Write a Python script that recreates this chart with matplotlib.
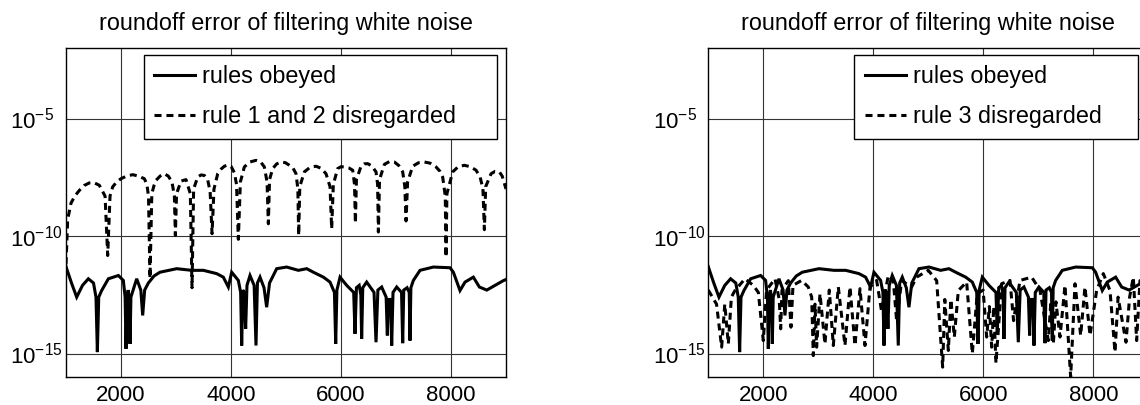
import numpy as np
import matplotlib.pyplot as plt

plt.rcParams['font.family'] = ['Liberation Sans', 'DejaVu Sans']
plt.rcParams['mathtext.fontset'] = 'custom'
plt.rcParams['mathtext.rm'] = 'Liberation Sans'
plt.rcParams['mathtext.it'] = 'Liberation Sans:italic'
plt.rcParams['mathtext.bf'] = 'Liberation Sans:bold'

# values: x position and log10 of the error
obeyed_x = [1000, 1012, 1100, 1194, 1300, 1406, 1500, 1545, 1570, 1595, 1648, 1770, 1952, 2042,
            2075, 2091, 2110, 2130, 2150, 2164, 2180, 2285, 2360, 2394, 2430, 2497, 2600, 2709,
            3012, 3285, 3497, 3739, 3860, 3951, 4012, 4133, 4175, 4194, 4215, 4240, 4266, 4290,
            4345, 4420, 4454, 4480, 4527, 4600, 4648, 4700, 4830, 5012, 5224, 5376, 5497, 5679,
            5800, 5880, 5903, 5925, 5982, 6103, 6230, 6254, 6280, 6330, 6360, 6375, 6395, 6466,
            6600, 6636, 6670, 6739, 6820, 6842, 6860, 6900, 6921, 6945, 7012, 7100, 7121, 7140,
            7200, 7240, 7254, 7270, 7315, 7436, 7679, 7982, 8042, 8163, 8254, 8406, 8515, 8650,
            8800, 8950, 9000]
obeyed_exp = [-11.3, -11.39, -12.0, -12.6, -12.1, -11.82, -12.0, -12.6, -14.94, -12.6, -12.32, -11.82, -11.68, -11.89,
              -12.6, -14.8, -12.6, -12.3, -12.7, -14.59, -12.6, -11.82, -12.3, -13.38, -12.3, -12.0, -11.7, -11.54,
              -11.39, -11.46, -11.46, -11.6, -11.75, -12.17, -11.54, -11.89, -12.4, -14.66, -12.3, -12.4, -13.95, -12.1,
              -11.68, -12.1, -14.66, -12.0, -11.75, -12.2, -13.03, -12.0, -11.39, -11.32, -11.46, -11.39, -11.54, -11.75,
              -11.96, -12.4, -14.59, -12.3, -11.75, -12.1, -12.4, -14.16, -12.2, -12.1, -12.5, -14.38, -12.2, -11.96,
              -12.4, -14.52, -12.3, -12.17, -12.6, -14.23, -12.7, -12.7, -14.66, -12.4, -12.17, -12.4, -14.56, -12.3,
              -12.2, -12.4, -14.45, -12.2, -11.89, -11.46, -11.32, -11.35, -11.54, -12.32, -11.96, -11.75, -12.17, -12.3,
              -12.1, -11.9, -11.85]

rule12_x = [1000, 1030, 1091, 1160, 1242, 1330, 1424, 1500, 1606, 1710, 1758, 1800, 1848, 1920, 2000,
            2100, 2212, 2320, 2424, 2470, 2500, 2527, 2560, 2600, 2636, 2710, 2788, 2860, 2927, 2970,
            2988, 3010, 3091, 3182, 3260, 3291, 3320, 3394, 3455, 3515, 3575, 3620, 3655, 3690, 3758,
            3820, 3879, 3940, 4000, 4060, 4100, 4133, 4170, 4242, 4340, 4455, 4540, 4606, 4655, 4679,
            4700, 4758, 4830, 4909, 4990, 5061, 5130, 5182, 5215, 5230, 5250, 5333, 5440, 5545, 5640,
            5727, 5800, 5830, 5860, 5939, 6000, 6061, 6140, 6212, 6245, 6261, 6280, 6364, 6420, 6485,
            6560, 6636, 6665, 6679, 6700, 6788, 6880, 6970, 7050, 7121, 7160, 7182, 7210, 7303, 7410,
            7515, 7620, 7727, 7800, 7848, 7895, 7909, 7925, 8030, 8130, 8242, 8350, 8455, 8530, 8580,
            8606, 8630, 8727, 8800, 8879, 8930, 8970, 9000]
rule12_exp = [-11.2, -9.3, -8.6, -8.3, -8.06, -7.85, -7.74, -7.72, -7.84, -8.3, -10.83, -8.3, -7.91, -7.7, -7.56,
              -7.45, -7.39, -7.45, -7.56, -7.8, -8.3, -11.8, -8.2, -7.85, -7.63, -7.45, -7.35, -7.45, -7.7, -8.3,
              -9.97, -8.2, -7.66, -7.6, -8.2, -12.2, -8.0, -7.49, -7.4, -7.42, -7.6, -8.1, -9.9, -8.0, -7.35,
              -7.15, -7.03, -6.98, -7.03, -7.3, -7.8, -10.14, -7.7, -7.06, -6.85, -6.78, -6.85, -7.06, -7.7, -9.48,
              -7.6, -7.13, -6.93, -6.85, -6.88, -6.99, -7.12, -7.35, -8.0, -9.97, -7.9, -7.27, -7.07, -7.03, -7.12,
              -7.35, -7.9, -9.69, -7.8, -7.13, -7.05, -7.06, -7.1, -7.2, -7.8, -9.45, -7.6, -7.03, -6.93, -6.92,
              -7.02, -7.27, -7.8, -9.83, -7.6, -6.95, -6.83, -6.85, -7.0, -7.27, -7.9, -9.36, -7.7, -7.03, -6.88,
              -6.85, -6.9, -7.06, -7.25, -7.49, -8.3, -10.9, -8.2, -7.27, -7.05, -6.99, -7.05, -7.2, -7.5, -8.0,
              -9.73, -7.9, -7.35, -7.25, -7.27, -7.45, -7.77, -8.0]

rule3_x = [1000, 1150, 1243, 1300, 1364, 1420, 1485, 1667, 1819, 1910, 2000, 2060, 2213, 2290, 2316,
           2340, 2455, 2503, 2540, 2697, 2818, 2880, 2909, 2940, 2970, 3031, 3121, 3200, 3273, 3364,
           3485, 3576, 3667, 3758, 3849, 3940, 4061, 4150, 4273, 4364, 4424, 4515, 4697, 4788, 5000,
           5152, 5261, 5300, 5364, 5410, 5473, 5546, 5697, 5800, 5890, 5997, 6061, 6110, 6152, 6190,
           6230, 6333, 6485, 6550, 6667, 6879, 7030, 7182, 7225, 7273, 7320, 7394, 7485, 7588, 7667,
           7770, 7848, 7940, 8060, 8182, 8303, 8394, 8450, 8594, 8660, 8727, 8788, 8848, 9000]
rule3_exp = [-12.3, -12.9, -14.73, -12.9, -14.59, -12.6, -12.32, -11.82, -12.1, -12.4, -14.45, -12.3, -11.82, -12.7, -13.95,
             -12.3, -11.9, -13.88, -12.1, -11.89, -12.17, -12.6, -15.09, -12.9, -14.73, -12.46, -14.59, -12.3, -14.66, -12.17,
             -14.66, -12.17, -14.66, -12.24, -14.66, -12.17, -11.89, -13.2, -11.68, -11.9, -13.6, -11.9, -12.17, -11.75, -11.46,
             -11.9, -15.58, -12.7, -14.87, -12.7, -14.3, -12.32, -11.96, -15.0, -12.45, -12.3, -14.3, -13.0, -14.73, -13.0,
             -15.41, -12.03, -11.89, -13.6, -11.89, -11.75, -12.3, -14.45, -12.9, -14.59, -12.8, -14.3, -12.1, -16.0, -12.03,
             -14.23, -12.17, -14.23, -12.32, -11.6, -12.32, -14.94, -12.6, -14.52, -12.6, -11.75, -14.45, -11.9, -12.0]

title = 'roundoff error of filtering white noise'
xticks = [2000, 4000, 6000, 8000]
yticks = [1e-15, 1e-10, 1e-5]
ytick_labels = ['$10^{-15}$', '$10^{-10}$', '$10^{-5}$']

fig = plt.figure(figsize=(11.4, 4.05), dpi=100)
ax1 = fig.add_axes([0.0579, 0.0691, 0.386, 0.8123])
ax2 = fig.add_axes([0.6213, 0.0691, 0.386, 0.8123])

lw = 2.2
dash = (0, (2.3, 1.6))
fs = 16.8


def draw_panel(ax, dx, dexp, dlabel, leg_x0, leg_w):
    ax.semilogy(obeyed_x, np.power(10.0, obeyed_exp), color='black', lw=lw,
                solid_joinstyle='miter', label='rules obeyed')
    ax.semilogy(dx, np.power(10.0, dexp), color='black', lw=lw, linestyle=dash,
                label=dlabel)
    ax.set_xlim(1000, 9000)
    ax.set_ylim(1e-16, 1e-2)
    ax.set_xticks(xticks)
    ax.set_xticklabels([str(t) for t in xticks])
    ax.set_yticks(yticks)
    ax.set_yticklabels(ytick_labels)
    ax.minorticks_off()
    ax.tick_params(length=0, labelsize=16)
    ax.tick_params(axis='x', pad=6)
    ax.tick_params(axis='y', pad=40)
    for t in ax.get_yticklabels():
        t.set_horizontalalignment('left')
    ax.grid(True, color='0.2', lw=0.8)
    ax.set_axisbelow(True)
    for s in ax.spines.values():
        s.set_linewidth(1.0)
    ax.set_title(title, fontsize=fs, pad=13)
    leg = ax.legend(loc='upper left', bbox_to_anchor=(leg_x0, 0.979, leg_w, 0.0),
                    mode='expand', borderaxespad=0, fontsize=fs, handlelength=1.75,
                    handletextpad=0.3, labelspacing=0.72, borderpad=0.45,
                    fancybox=False, framealpha=1, edgecolor='black')
    leg.get_frame().set_linewidth(1.0)


draw_panel(ax1, rule12_x, rule12_exp, 'rule 1 and 2 disregarded', 0.177, 0.802)
draw_panel(ax2, rule3_x, rule3_exp, 'rule 3 disregarded', 0.332, 0.645)

fig.savefig('out.png', dpi=100)
